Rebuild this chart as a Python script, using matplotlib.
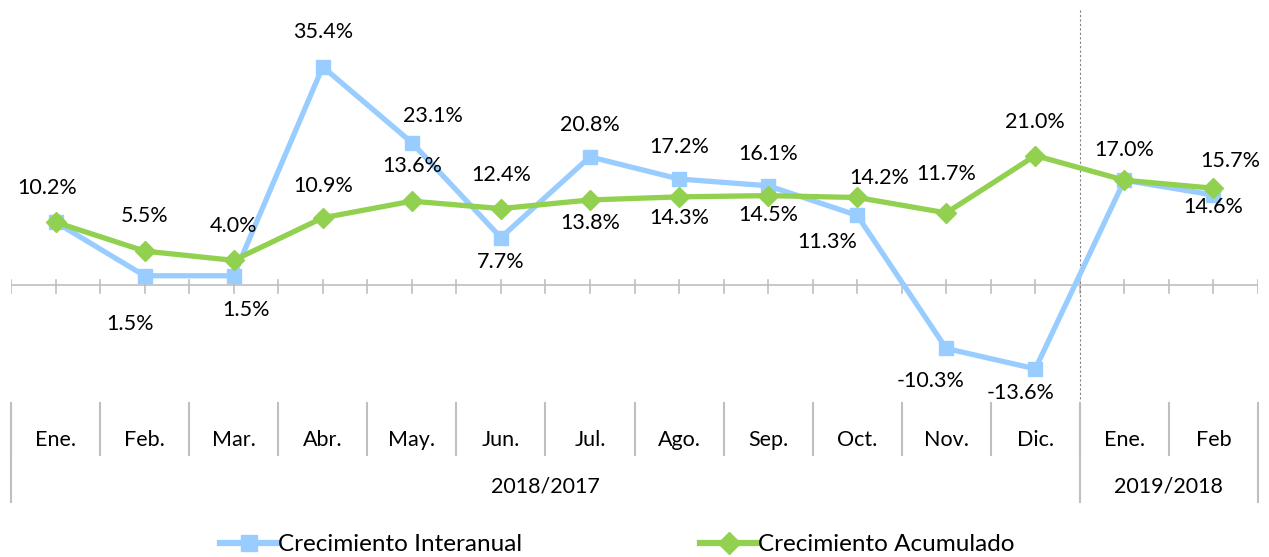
import matplotlib.pyplot as plt
from matplotlib.lines import Line2D

plt.rcParams['font.family'] = ['Lato', 'DejaVu Sans']

months = ["Ene.", "Feb.", "Mar.", "Abr.", "May.", "Jun.", "Jul.", "Ago.",
          "Sep.", "Oct.", "Nov.", "Dic.", "Ene.", "Feb"]
years = ["2018/2017", "2019/2018"]
year_counts = [12, 2]

interanual = [10.2, 1.5, 1.5, 35.4, 23.1, 7.7, 20.8, 17.2, 16.1, 11.3, -10.3, -13.6, 17.0, 14.6]
acumulado = [10.2, 5.5, 4.0, 10.9, 13.6, 12.4, 13.8, 14.3, 14.5, 14.2, 11.7, 21.0, 17.0, 15.7]

# label offsets in pixels (dx, dy); None = label hidden
inter_off = [None, (-15, -48), (12, -34), (0, 35), (21, 27), (0, -24), (0, 32),
             (0, 32), (0, 32), (-30, -27), (-16, -33), (-15, -24), None, (0, -12)]
acum_off = [(-8, 34), (0, 35), (0, 34), (0, 32), (0, 35), (0, 34), (0, -23),
            (0, -21), (0, -19), (22, 19), (0, 39), (0, 34), (0, 30), (17, 27)]

blue = "#99CCFF"
green = "#92D050"
grey = "#BFBFBF"
fs = 15.5

fig = plt.figure(figsize=(12.69, 5.57), dpi=100)
ax = fig.add_axes([11 / 1269, 1 - 400 / 557, 1247 / 1269, 390 / 557])
x = list(range(len(months)))

ax.plot(x, interanual, color=blue, lw=3.8, marker="s", ms=10, zorder=3,
        solid_joinstyle="miter")
ax.plot(x, acumulado, color=green, lw=3.8, marker="D", ms=10, zorder=4,
        solid_joinstyle="miter")

for vals, offs in [(interanual, inter_off), (acumulado, acum_off)]:
    for i, (v, o) in enumerate(zip(vals, offs)):
        if o is None:
            continue
        ax.annotate(f"{v:.1f}%", (i, v), xytext=o, textcoords="offset pixels",
                    ha="center", va="center", fontsize=fs, zorder=5)

ax.set_xlim(-0.5, len(months) - 0.5)
ax.set_ylim(-18.66, 44.62)
ax.axis("off")

# zero axis with ticks
ax.axhline(0, color=grey, lw=1.2, zorder=1)
for k in range(2 * len(months) + 1):
    ax.plot([-0.5 + k * 0.5] * 2, [-1.3, 0.8], color=grey, lw=1.2, zorder=1)

# separator between years
ax.plot([11.5, 11.5], [44.62, -18.66], color="#808080", lw=0.8, ls=(0, (2, 2)),
        zorder=2)

# category table below the plot
tr = ax.get_xaxis_transform()
for i, m in enumerate(months):
    ax.text(i, -0.1026, m, transform=tr, ha="center", va="center", fontsize=fs)
    ax.plot([i - 0.5] * 2, [-0.0077, -0.141], transform=tr, color=grey, lw=1.5,
            clip_on=False)
start = -0.5
for y, n in zip(years, year_counts):
    ax.text(start + n / 2, -0.223, y, transform=tr, ha="center", va="center",
            fontsize=fs)
    ax.plot([start] * 2, [-0.0077, -0.2615], transform=tr, color=grey, lw=1.5,
            clip_on=False)
    start += n
ax.plot([start] * 2, [-0.0077, -0.2615], transform=tr, color=grey, lw=1.5,
        clip_on=False)

handles = [
    Line2D([], [], color=blue, lw=4.5, marker="s", ms=11),
    Line2D([], [], color=green, lw=4.5, marker="D", ms=11),
]
fig.legend(handles, ["Crecimiento Interanual", "Crecimiento Acumulado"],
           loc="center", bbox_to_anchor=(0.4866, 0.022), ncol=2, frameon=False,
           fontsize=17.5, handlelength=2.4, handletextpad=0.0, columnspacing=7.3,
           borderpad=0)

fig.savefig("out.png", dpi=100)
